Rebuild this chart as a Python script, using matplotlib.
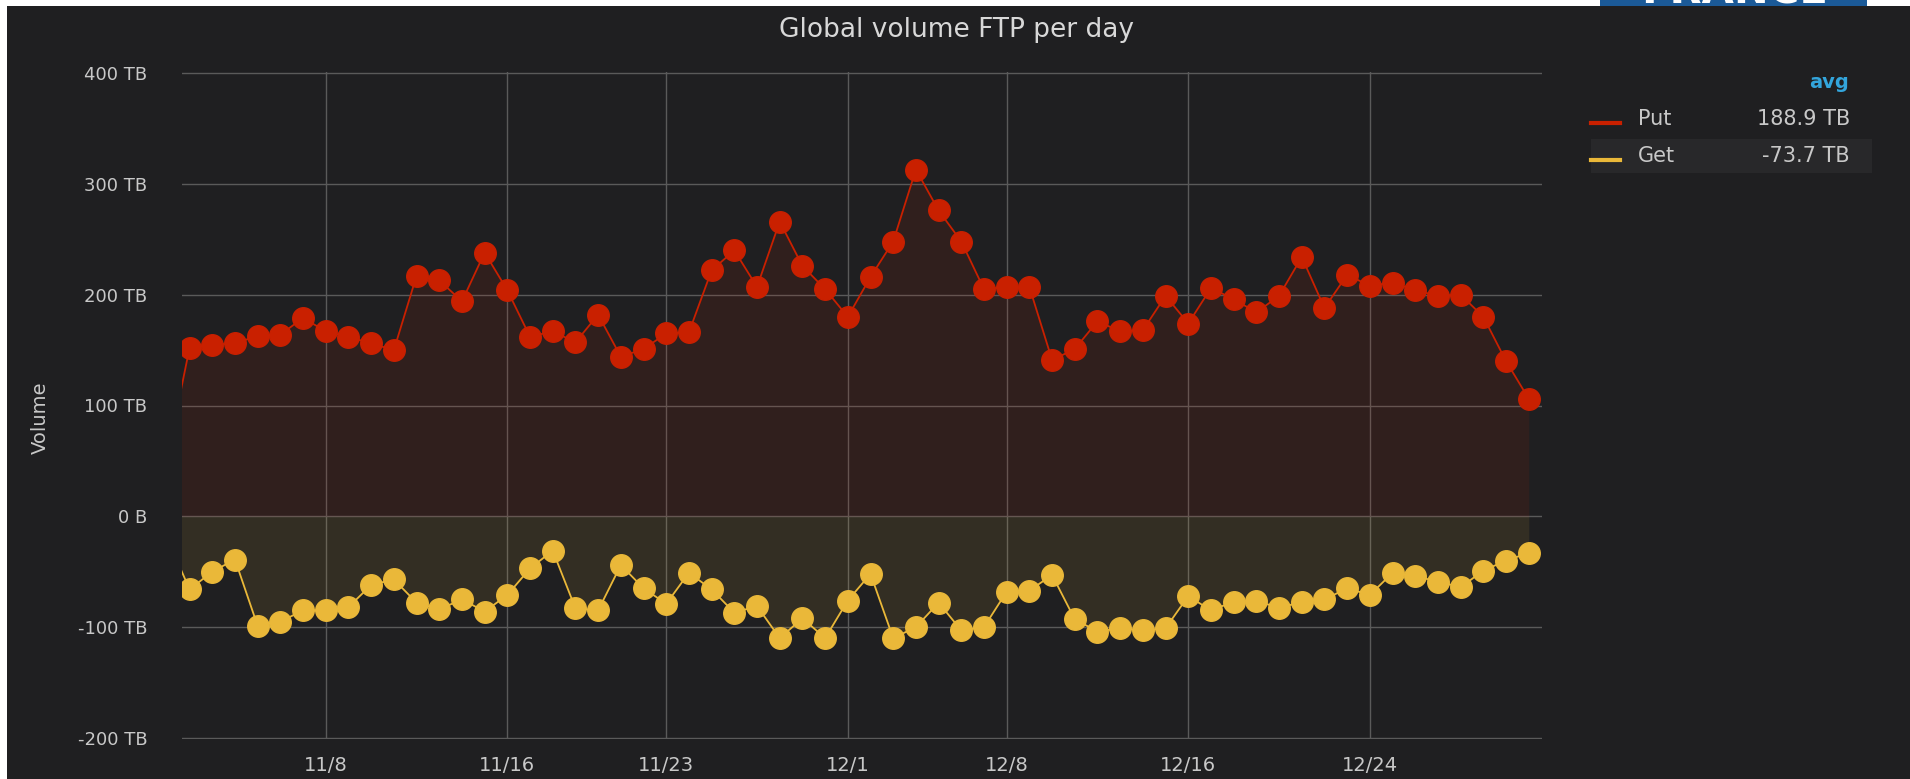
# filename: plot_ftp_volume.py
import matplotlib.pyplot as plt
from matplotlib.lines import Line2D
from matplotlib.patches import Rectangle
import pandas as pd

# Daily FTP volume (TB)
days = pd.date_range('2019-11-01', '2019-12-31', freq='D')
put_tb = [52,
          152, 155, 156, 163, 164, 179, 167, 162, 156, 150,
          217, 213, 194, 238, 204, 162, 167, 157, 182, 144,
          151, 165, 166, 222, 240, 207, 266, 226, 205, 180,
          216, 248, 313, 276, 248, 205, 207, 207, 141, 151,
          176, 167, 168, 199, 174, 206, 196, 184, 199, 234,
          188, 218, 208, 211, 204, 199, 200, 180, 140, 106]
get_tb = [-19,
          -66, -50, -39, -99, -95, -85, -85, -82, -62, -57,
          -78, -84, -75, -86, -71, -47, -31, -83, -85, -44,
          -65, -79, -51, -66, -87, -81, -110, -92, -110, -76,
          -52, -110, -100, -78, -103, -100, -68, -67, -53, -93,
          -104, -101, -103, -101, -72, -85, -77, -76, -83, -77,
          -75, -65, -71, -51, -54, -59, -64, -49, -40, -33]

tick_dates = pd.to_datetime(['2019-11-08', '2019-11-16', '2019-11-23', '2019-12-01',
                             '2019-12-08', '2019-12-16', '2019-12-24'])
tick_labels = ['11/8', '11/16', '11/23', '12/1', '12/8', '12/16', '12/24']
y_ticks = [-200, -100, 0, 100, 200, 300, 400]
y_labels = ['-200 TB', '-100 TB', '0 B', '100 TB', '200 TB', '300 TB', '400 TB']

legend_names = ['Put', 'Get']
legend_avgs = ['188.9 TB', '-73.7 TB']

BG = '#1f1f21'
RED = '#c92000'
YEL = '#eab839'
TXT = '#c8c8c8'
W, H = 1910, 779

fig = plt.figure(figsize=(W / 100, H / 100), dpi=100, facecolor='white')

# dark panel and the bit of logo cut off at the top
fig.add_artist(Rectangle((7 / W, 0), 1 - 7 / W, 1 - 6 / H, transform=fig.transFigure,
                         facecolor=BG, edgecolor='none', zorder=0))
fig.add_artist(Rectangle((1600 / W, 1 - 6 / H), 267 / W, 6 / H, transform=fig.transFigure,
                         facecolor='#1b5a98', edgecolor='none', zorder=1))
fig.text(1735 / W, 1 - 3 / H, 'FRANCE', ha='center', va='baseline', color='white',
         fontsize=30, weight='bold', zorder=2)

ax = fig.add_axes([182 / W, 1 - 739 / H, (1542 - 182) / W, (739 - 72) / H])
ax.set_facecolor(BG)

ax.fill_between(days, 0, put_tb, color=RED, alpha=0.1, lw=0)
ax.fill_between(days, 0, get_tb, color=YEL, alpha=0.1, lw=0)
ax.plot(days, put_tb, color=RED, lw=1.3, marker='o', ms=15.5, mec=RED, zorder=3)
ax.plot(days, get_tb, color=YEL, lw=1.3, marker='o', ms=15.5, mec=YEL, zorder=3)

ax.set_xlim(pd.Timestamp('2019-11-02') - pd.Timedelta(hours=8),
            pd.Timestamp('2019-12-31') + pd.Timedelta(hours=14))
ax.set_ylim(-201, 401)
ax.set_xticks(tick_dates)
ax.set_xticklabels(tick_labels)
ax.set_yticks(y_ticks)
ax.set_yticklabels(y_labels)
ax.tick_params(axis='both', length=0, colors=TXT, labelsize=13)
ax.tick_params(axis='y', pad=25)
ax.tick_params(axis='x', pad=12, labelsize=14)
ax.grid(True, color='#5a5a5a', lw=1)
ax.set_axisbelow(True)
for s in ax.spines.values():
    s.set_visible(False)

fig.text(40 / W, 1 - 418 / H, 'Volume', rotation=90, ha='center', va='center',
         color=TXT, fontsize=14)
fig.text(956 / W, 1 - 30 / H, 'Global volume FTP per day', ha='center', va='center',
         color='#d8d8d8', fontsize=19)

# legend table on the right
fig.text(1849 / W, 1 - 83 / H, 'avg', ha='right', va='center', color='#33a5dc',
         fontsize=14, weight='bold')
fig.add_artist(Rectangle((1591 / W, 1 - 173 / H), (1872 - 1591) / W, 34 / H,
                         transform=fig.transFigure, facecolor='#28282a', edgecolor='none'))
for i, (name, avg, col) in enumerate(zip(legend_names, legend_avgs, [RED, YEL])):
    yc = 1 - (119 + 37 * i) / H
    fig.add_artist(Line2D([1591 / W, 1620 / W], [yc - 4 / H, yc - 4 / H],
                          transform=fig.transFigure, color=col, lw=3))
    fig.text(1638 / W, yc, name, ha='left', va='center', color=TXT, fontsize=15)
    fig.text(1850 / W, yc, avg, ha='right', va='center', color=TXT, fontsize=15)

plt.savefig('out.png', dpi=100, facecolor=fig.get_facecolor())
